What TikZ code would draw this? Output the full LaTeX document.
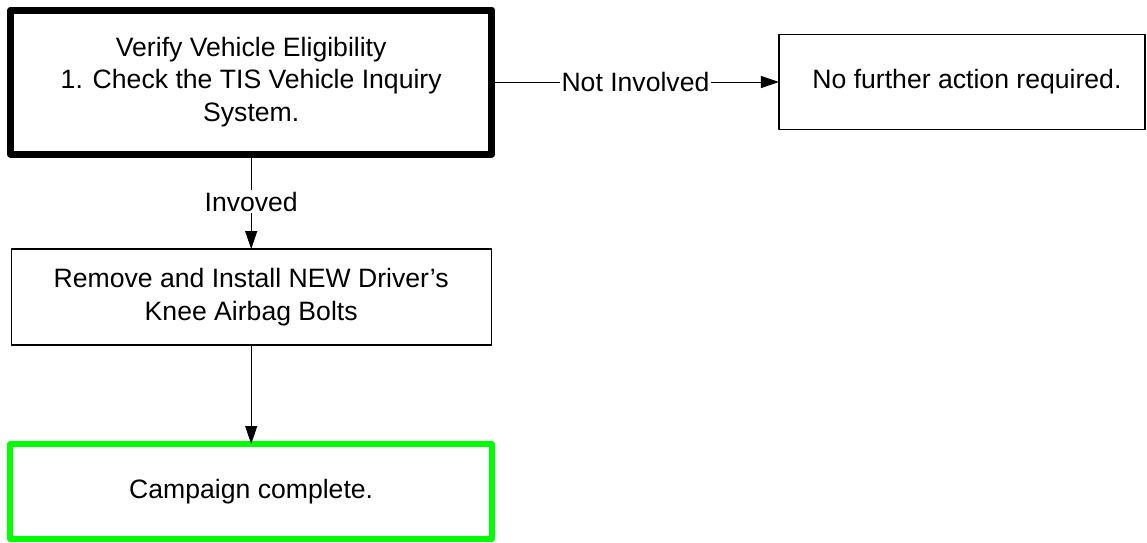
\documentclass[tikz,border=0pt]{standalone}
\usepackage{fontspec}
\setmainfont{Liberation Sans}
\usepackage{tikz}
\usetikzlibrary{positioning}
\usetikzlibrary{arrows.meta}
\definecolor{green}{RGB}{0,255,0}

\begin{document}
\begin{tikzpicture}[
    font=\fontsize{13.3pt}{16.3pt}\selectfont,
    box/.style={draw, line width=0.6pt, line join=round, align=center, outer sep=0pt, inner sep=0pt},
    flow/.style={-{Triangle[length=9pt,width=6pt]}, line width=0.5pt},
    lbl/.style={fill=white, inner sep=1pt, midway}
]
    % Fix the page size
    \useasboundingbox (0,0) rectangle (573.5pt,-271pt);

    % Draw boxes
    \node[box, line width=3.5pt, minimum width=240.75pt, minimum height=72pt] (verify) at (125.6pt,-41pt)
        {Verify Vehicle Eligibility\\1. Check the TIS Vehicle Inquiry\\System.};
    \node[box, minimum width=183pt, minimum height=47.5pt, right=143.5pt of verify] (noaction)
        {\hspace*{5pt}No further action required.};
    \node[box, minimum width=240pt, minimum height=48pt, below=47.5pt of verify] (replace)
        {Remove and Install NEW Driver’s\\Knee Airbag Bolts};
    \node[box, draw=green, line width=3pt, minimum width=240.75pt, minimum height=47.5pt, below=49.5pt of replace] (complete)
        {Campaign complete.};

    % Draw connectors
    \draw[flow] (verify) -- node[lbl] {Not Involved} (noaction);
    \draw[flow] (verify) -- node[lbl] {Invoved} (replace);
    \draw[flow] (replace) -- (complete);
\end{tikzpicture}
\end{document}
